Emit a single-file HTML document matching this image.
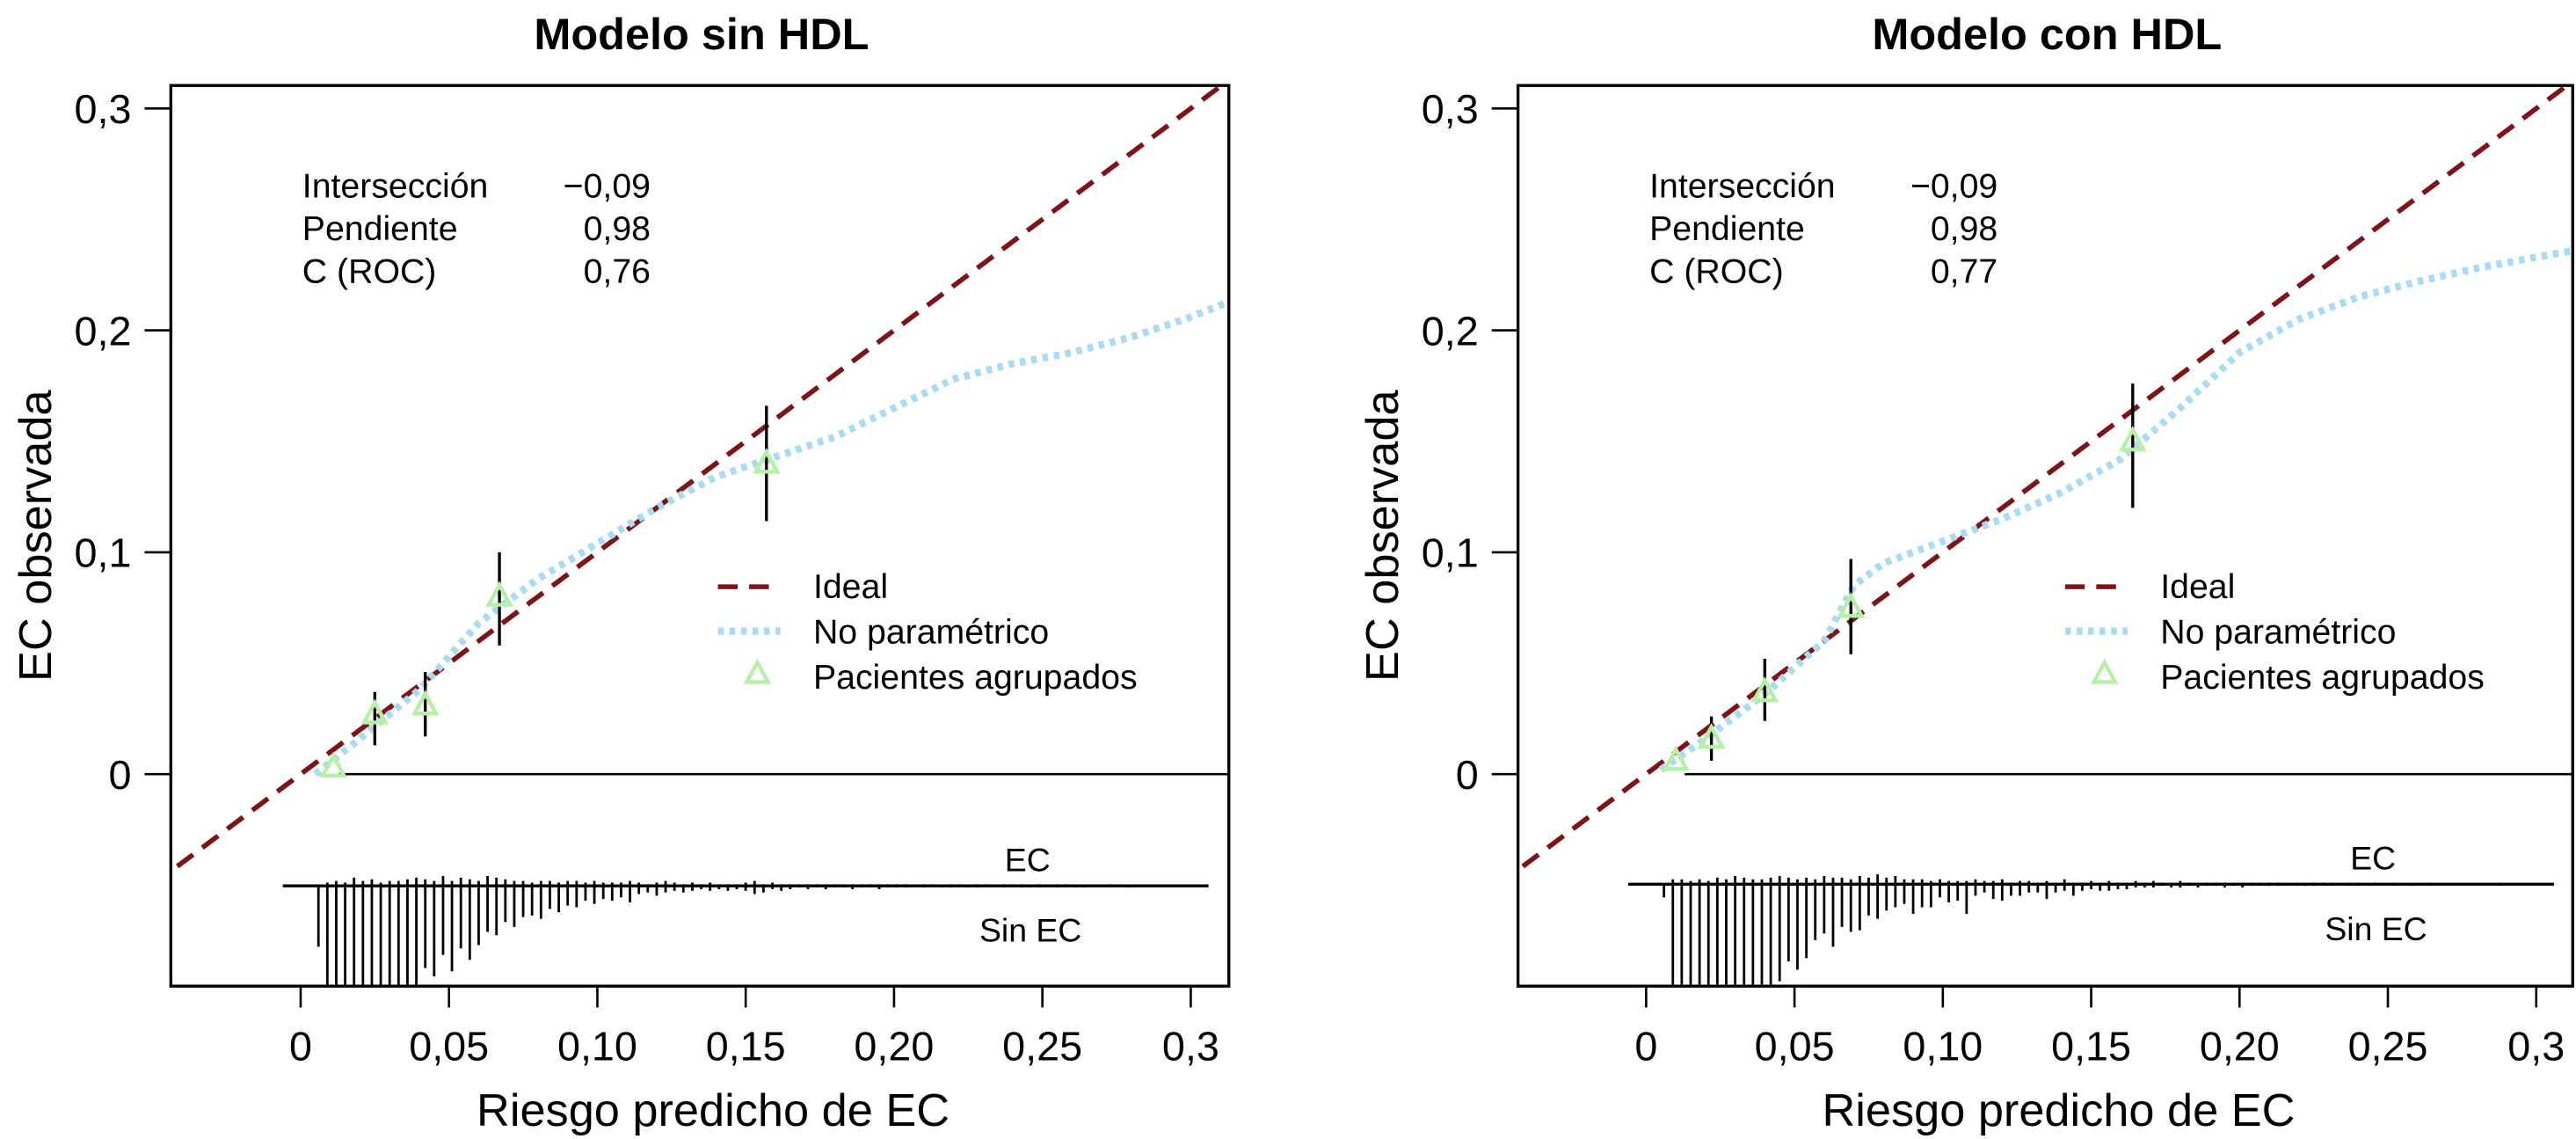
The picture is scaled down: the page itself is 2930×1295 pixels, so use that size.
<!DOCTYPE html>
<html><head><meta charset="utf-8">
<style>
html,body{margin:0;padding:0;background:#fff;}
svg{display:block;font-family:"Liberation Sans",Arial,sans-serif;}
</style></head>
<body>
<svg id="chart" width="2930" height="1295" viewBox="0 0 1568 693" xmlns="http://www.w3.org/2000/svg"></svg>
<script>
// ---------- data ----------
const yTicks = [0, 0.1, 0.2, 0.3];
const yTickLabels = ["0", "0,1", "0,2", "0,3"];
const xTicks = [0, 0.05, 0.10, 0.15, 0.20, 0.25, 0.3];
const xTickLabels = ["0", "0,05", "0,10", "0,15", "0,20", "0,25", "0,3"];
const panelTitles = ["Modelo sin HDL", "Modelo con HDL"];
const statNames = ["Intersección", "Pendiente", "C (ROC)"];
const statsLeft = ["\u22120,09", "0,98", "0,76"];
const statsRight = ["\u22120,09", "0,98", "0,77"];
const legendLabels = ["Ideal", "No paramétrico", "Pacientes agrupados"];

const smoothXLeft = [0.005,0.02,0.04,0.06,0.08,0.10,0.12,0.14,0.16,0.18,0.20,0.22,0.24,0.26,0.28,0.30,0.313];
const smoothYLeft = [0.0,0.016,0.038,0.068,0.088,0.104,0.12,0.134,0.143,0.152,0.165,0.178,0.185,0.19,0.197,0.206,0.213];
const smoothXRight = [0.005,0.02,0.04,0.06,0.07,0.08,0.10,0.12,0.14,0.16,0.18,0.20,0.22,0.24,0.26,0.28,0.30,0.313];
const smoothYRight = [0.002,0.016,0.036,0.06,0.085,0.095,0.105,0.115,0.127,0.142,0.165,0.19,0.205,0.215,0.222,0.228,0.233,0.236];

const groupXLeft = [0.011,0.025,0.042,0.067,0.157];
const groupYLeft = [0.003,0.027,0.031,0.080,0.140];
const groupLoLeft = [null,0.013,0.017,0.058,0.114];
const groupHiLeft = [null,0.037,0.046,0.100,0.166];
const groupXRight = [0.010,0.022,0.040,0.069,0.164];
const groupYRight = [0.006,0.016,0.037,0.075,0.150];
const groupLoRight = [null,0.006,0.024,0.054,0.120];
const groupHiRight = [null,0.026,0.052,0.097,0.176];

// rug: risk bins start 0.006, step 0.003
const rugStart = 0.006, rugStep = 0.003;
const rugDownLeft = [37,61,61,61,61,61,61,61,61,61,61,61,50,55,42,52,38,45,36,28,30,22,25,19,18,20,14,16,12,13,9,11,8,9,7,10,5,4,6,4,3,4,3,2,3,2,3,2,3,5,4,2,3,2,1,2,1,2,1,1,2,1,1,2,1,1,1,0,1,0,1,1,0,1,1,0,0,1,0,1,1,1,0,1,0,1,1,0,0,0,0,1,0,0,0,0];
const rugUpLeft = [0,2,3,2,5,3,4,2,3,3,4,5,4,3,6,3,5,4,3,6,5,4,3,3,2,3,3,2,3,3,2,3,2,2,2,3,2,1,2,3,2,1,2,1,2,1,1,1,2,3,1,2,1,1,1,1,1,1,1,1,1,1,1,1,1,1,1,0,1,1,0,1,1,0,1,1,0,1,1,1,0,1,0,1,1,0,0,0,0,1,0,0,0,0,0,0];
const rugDownRight = [8,61,61,61,61,61,61,61,61,61,61,61,61,59,47,52,45,34,30,38,26,29,28,19,21,16,14,12,18,14,14,8,11,10,18,7,5,9,10,7,7,5,5,9,5,4,7,4,3,4,4,3,3,2,2,2,1,2,2,1,2,1,1,2,1,2,1,0,1,1,0,0,1,1,0,0,0,0,1,0,0,0,0,0,1,0,0,0,0,0,0,0,0,0,0,0];
const rugUpRight = [0,3,3,2,3,2,4,3,5,4,3,3,4,5,4,3,4,3,5,4,4,3,5,4,6,4,5,3,3,3,2,3,2,2,2,3,2,2,3,1,2,2,1,2,1,3,1,1,2,1,2,1,1,2,1,2,1,1,2,1,1,1,1,1,0,1,1,1,1,1,0,1,0,1,1,1,0,1,1,0,1,0,1,0,0,0,1,0,0,0,0,0,0,0,1,0];

// ---------- drawing ----------
const NS = "http://www.w3.org/2000/svg";
const svg = document.getElementById("chart");
function mk(tag, attrs, parent) {
  const e = document.createElementNS(NS, tag);
  for (const k in attrs) e.setAttribute(k, attrs[k]);
  (parent || svg).appendChild(e);
  return e;
}

function drawPanel(p) {
  const g = mk("g", {});
  
  
  const X = v => p.x0 + v * 1806;
  const Y = v => 471 - v * 1350;
  const L = p.boxL, R = p.boxR, T = 52, B = 600;

  const clipId = p.id + "-clip";
  const cp = mk("clipPath", {id: clipId}, g);
  mk("rect", {x: L, y: T, width: R - L, height: B - T}, cp);

  const t = mk("text", {x: (L + R) / 2 + 1, y: 30, "text-anchor": "middle", "font-size": 27, "font-weight": "bold"}, g);
  t.textContent = p.title;
  
  

  yTicks.forEach((v, i) => {
    const tk = mk("line", {x1: L - 16, x2: L, y1: Y(v), y2: Y(v), stroke: "#000", "stroke-width": 1.4}, g);
    
    
    const tl = mk("text", {x: L - 24, y: Y(v) + 9, "text-anchor": "end", "font-size": 25}, g);
    tl.textContent = yTickLabels[i];
    
    
  });
  const yt = mk("text", {transform: `translate(${L - 73},326) rotate(-90)`, "text-anchor": "middle", "font-size": 28}, g);
  yt.textContent = "EC observada";
  
  

  xTicks.forEach((v, i) => {
    const tk = mk("line", {x1: X(v), x2: X(v), y1: B, y2: B + 13, stroke: "#000", "stroke-width": 1.4}, g);
    
    
    const tl = mk("text", {x: X(v), y: 645, "text-anchor": "middle", "font-size": 25}, g);
    tl.textContent = xTickLabels[i];
    
    
  });
  const xt = mk("text", {x: X(0.139), y: 685, "text-anchor": "middle", "font-size": 28}, g);
  xt.textContent = "Riesgo predicho de EC";
  
  

  const plot = mk("g", {"clip-path": `url(#${clipId})`}, g);
  const zl = mk("line", {x1: X(0.013), x2: R, y1: Y(0), y2: Y(0), stroke: "#000", "stroke-width": 1.4}, plot);
  
  

  const base = p.rugBase;
  const rb = mk("line", {x1: X(-0.006), x2: X(0.306), y1: base, y2: base, stroke: "#000", "stroke-width": 1.8}, plot);
  
  
  p.down.forEach((d, i) => {
    const xv = X(rugStart + i * rugStep);
    if (d > 0) {
      const s = mk("line", {x1: xv, x2: xv, y1: base, y2: Math.min(base + d, B), stroke: "#000", "stroke-width": 1.5}, plot);
      
      
    }
    const u = p.up[i];
    if (u > 0) {
      const s2 = mk("line", {x1: xv, x2: xv, y1: base, y2: base - u, stroke: "#000", "stroke-width": 1.5}, plot);
      
      
    }
  });
  const ec = mk("text", {x: X(0.245), y: base - 9, "text-anchor": "middle", "font-size": 20}, g);
  ec.textContent = "EC";
  
  
  const sec = mk("text", {x: X(0.246), y: base + 34, "text-anchor": "middle", "font-size": 20}, g);
  sec.textContent = "Sin EC";
  
  

  const il = mk("line", {x1: X(-0.05), y1: Y(-0.05), x2: X(0.32), y2: Y(0.32), stroke: "#7f1418", "stroke-width": 3, "stroke-dasharray": "12,7"}, plot);
  
  

  const pts = p.sx.map((v, i) => X(v) + "," + Y(p.sy[i])).join(" ");
  const sm = mk("polyline", {points: pts, fill: "none", stroke: "#a9dcf4", "stroke-width": 4.5, "stroke-dasharray": "3.5,3.5"}, plot);
  
  

  p.gx.forEach((v, i) => {
    if (p.glo[i] !== null) {
      const eb = mk("line", {x1: X(v), x2: X(v), y1: Y(p.glo[i]), y2: Y(p.ghi[i]), stroke: "#000", "stroke-width": 1.8}, plot);
      
      
    }
    const cx = X(v), cy = Y(p.gy[i]);
    const tr = mk("polygon", {points: `${cx},${cy - 7} ${cx - 6.5},${cy + 5} ${cx + 6.5},${cy + 5}`, fill: "none", stroke: "#b5f0a5", "stroke-width": 2.4}, plot);
    
    
  });

  statNames.forEach((n, i) => {
    const a = mk("text", {x: L + 80, y: 120 + i * 26, "font-size": 21}, g);
    a.textContent = n;
    
    
    const b = mk("text", {x: L + 292, y: 120 + i * 26, "text-anchor": "end", "font-size": 21}, g);
    b.textContent = p.stats[i];
    
    
  });

  const lg = mk("g", {}, g);
  
  
  const lx = L + 333;
  mk("line", {x1: lx, x2: lx + 38, y1: 357, y2: 357, stroke: "#7f1418", "stroke-width": 3, "stroke-dasharray": "12,7"}, lg);
  mk("line", {x1: lx, x2: lx + 38, y1: 384, y2: 384, stroke: "#a9dcf4", "stroke-width": 4.5, "stroke-dasharray": "3.5,3.5"}, lg);
  const tx = lx + 24, ty = 410;
  mk("polygon", {points: `${tx},${ty - 7} ${tx - 6.5},${ty + 5} ${tx + 6.5},${ty + 5}`, fill: "none", stroke: "#b5f0a5", "stroke-width": 2.4}, lg);
  legendLabels.forEach((s, i) => {
    const e = mk("text", {x: lx + 58, y: 364 + i * 27.5, "font-size": 21}, lg);
    e.textContent = s;
    
    
  });

  const bx = mk("rect", {x: L, y: T, width: R - L, height: B - T, fill: "none", stroke: "#000", "stroke-width": 1.8}, g);
  
  
}

drawPanel({id: "panel-sin-hdl", title: panelTitles[0], boxL: 104, boxR: 748, x0: 183, rugBase: 539,
  sx: smoothXLeft, sy: smoothYLeft, gx: groupXLeft, gy: groupYLeft, glo: groupLoLeft, ghi: groupHiLeft,
  down: rugDownLeft, up: rugUpLeft, stats: statsLeft});
drawPanel({id: "panel-con-hdl", title: panelTitles[1], boxL: 924, boxR: 1566, x0: 1002, rugBase: 538,
  sx: smoothXRight, sy: smoothYRight, gx: groupXRight, gy: groupYRight, glo: groupLoRight, ghi: groupHiRight,
  down: rugDownRight, up: rugUpRight, stats: statsRight});
</script>
</body></html>
